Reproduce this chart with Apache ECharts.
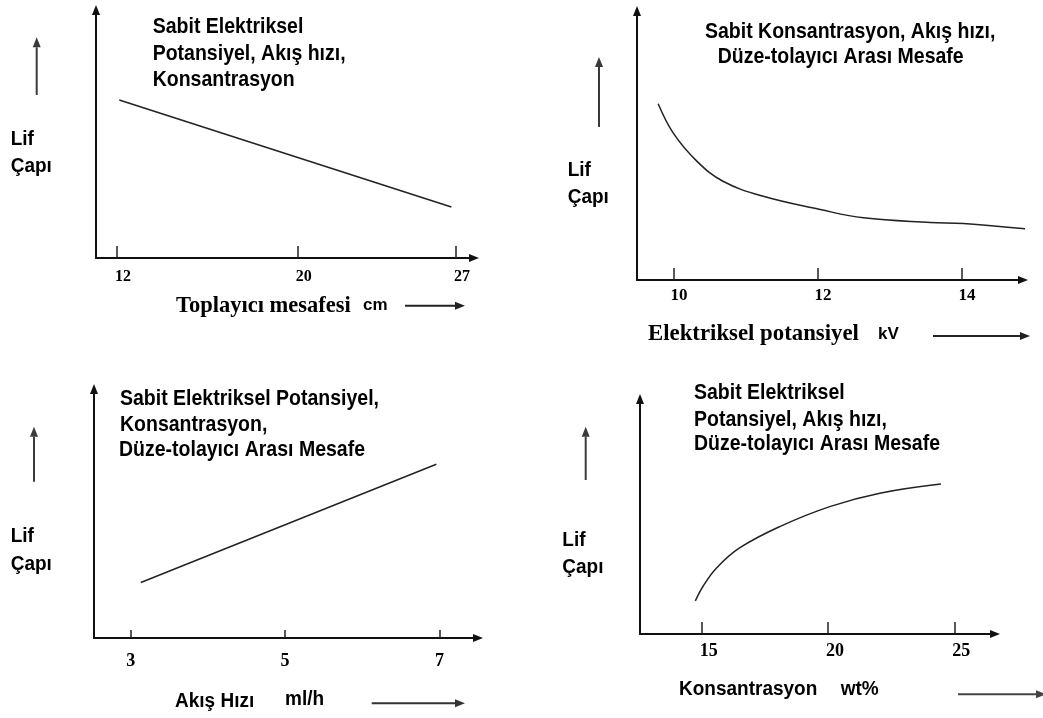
<!DOCTYPE html>
<html>
<head>
<meta charset="utf-8">
<script src="https://cdn.jsdelivr.net/npm/echarts@6/dist/echarts.min.js"></script>
<style>
html, body { margin: 0; padding: 0; background: #fff; }
#chart { width: 1043px; height: 718px; }
</style>
</head>
<body>
<div id="chart"></div>
<script>
// Lif çapı has no scale in the figure, y is a relative 0-100 value
const distanceTicks = [12, 20, 27]
const distanceLine = [[12.1, 63.7], [26.8, 20.6]]

const voltageTicks = [10, 12, 14]
const voltageCurve = [
  [9.78, 65.5], [9.99, 54.6], [10.32, 44.1], [10.68, 36.7], [11.24, 31.1],
  [12.03, 26.2], [12.63, 23.1], [13.56, 21.4], [14.02, 21.0], [15.0, 18.7],
]

const flowTicks = [3, 5, 7]
const flowLine = [[3.13, 22.3], [6.96, 69.8]]

const concTicks = [15, 20, 25]
const concCurve = [
  [14.75, 14.1], [15.05, 20.2], [15.58, 28.0], [16.5, 36.6],
  [18.09, 45.7], [20.07, 54.2], [22.05, 59.9], [24.47, 63.8],
]

const yName = ['Lif', 'Çapı']
const headings = [
  ['Sabit Elektriksel', 'Potansiyel, Akış hızı,', 'Konsantrasyon'],
  ['Sabit Konsantrasyon, Akış hızı,', 'Düze-tolayıcı Arası Mesafe'],
  ['Sabit Elektriksel Potansiyel,', 'Konsantrasyon,', 'Düze-tolayıcı Arası Mesafe'],
  ['Sabit Elektriksel', 'Potansiyel, Akış hızı,', 'Düze-tolayıcı Arası Mesafe'],
]
const xNames = [
  ['Toplayıcı mesafesi', 'cm'],
  ['Elektriksel potansiyel', 'kV'],
  ['Akış Hızı', 'ml/h'],
  ['Konsantrasyon', 'wt%'],
]

const SANS = '"Arial", "Liberation Sans", sans-serif'
const SERIF = '"Times New Roman", "Liberation Serif", serif'

const panels = [
  { grid: { left: 96, top: 10, width: 378, height: 248 }, min: 11.07, max: 27.8,
    ticks: distanceTicks, data: distanceLine, smooth: false,
    label: { fontSize: 16, margin: 11, padding: [0, 0, 0, 12] }, tickLen: 12 },
  { grid: { left: 637, top: 11, width: 386, height: 269 }, min: 9.486, max: 14.847,
    ticks: voltageTicks, data: voltageCurve, smooth: 0.4,
    label: { fontSize: 17, margin: 7, padding: [0, 0, 0, 10] }, tickLen: 12 },
  { grid: { left: 94, top: 389, width: 384, height: 249 }, min: 2.523, max: 7.5,
    ticks: flowTicks, data: flowLine, smooth: false,
    label: { fontSize: 18, margin: 14, padding: 0 }, tickLen: 8 },
  { grid: { left: 640, top: 399, width: 355, height: 235 }, min: 12.56, max: 26.61,
    ticks: concTicks, data: concCurve, smooth: 0.4,
    label: { fontSize: 18, margin: 8, padding: [0, 0, 0, 14] }, tickLen: 12 },
]

const text = (str, x, y, font, sy) => ({
  type: 'text',
  x: x,
  y: y,
  scaleY: sy || 1,
  silent: true,
  style: {
    text: str,
    font: font,
    fill: '#000',
    align: 'left',
    textAlign: 'left',
    verticalAlign: 'middle',
    textVerticalAlign: 'middle',
  },
})

const arrow = (x1, y1, x2, y2, color) => {
  const len = Math.hypot(x2 - x1, y2 - y1)
  const ux = (x2 - x1) / len
  const uy = (y2 - y1) / len
  const hl = 10
  const hw = 4
  const bx = x2 - ux * hl
  const by = y2 - uy * hl
  return {
    type: 'group',
    silent: true,
    children: [
      { type: 'line', shape: { x1: x1, y1: y1, x2: bx, y2: by }, style: { stroke: color, lineWidth: 2 } },
      {
        type: 'polygon',
        shape: { points: [[x2, y2], [bx - uy * hw, by + ux * hw], [bx + uy * hw, by - ux * hw]] },
        style: { fill: color },
      },
    ],
  }
}

const headFont = 'bold 19.5px ' + SANS
const sansFont = 'bold 19px ' + SANS
const graphics = []

// headings
const headPos = [
  { x: [152.7, 152.7, 152.7], y: [26.7, 54.2, 80.3] },
  { x: [705, 717.7], y: [32.2, 57] },
  { x: [120, 120, 119], y: [399.2, 425.5, 450] },
  { x: [694, 694, 694], y: [393, 420, 444] },
]
headings.forEach((lines, i) => {
  lines.forEach((l, j) => graphics.push(text(l, headPos[i].x[j], headPos[i].y[j], headFont, 1.1)))
})

// Lif Çapı labels + small up arrows
const yNamePos = [
  { x: 10.7, y: [138.8, 166.3], arrow: [36.7, 95, 37.3] },
  { x: 567.7, y: [170.3, 197], arrow: [599, 127, 57] },
  { x: 10.7, y: [536.3, 563.8], arrow: [34, 481.7, 426.7] },
  { x: 562.3, y: [540.3, 567], arrow: [585.7, 480, 426.7] },
]
yNamePos.forEach((p) => {
  graphics.push(text(yName[0], p.x, p.y[0], sansFont, 1.1))
  graphics.push(text(yName[1], p.x, p.y[1], sansFont, 1.1))
  graphics.push(arrow(p.arrow[0], p.arrow[1], p.arrow[0], p.arrow[2], '#3a3a3a'))
})

// x axis names + arrows
graphics.push(text(xNames[0][0], 176, 305.8, 'bold 22.5px ' + SERIF))
graphics.push(text(xNames[0][1], 363, 305, 'bold 17px ' + SANS))
graphics.push(arrow(405, 305.7, 465, 305.7, '#222'))

graphics.push(text(xNames[1][0], 648, 334, 'bold 22.8px ' + SERIF))
graphics.push(text(xNames[1][1], 878, 334.5, 'bold 17px ' + SANS))
graphics.push(arrow(933, 336, 1030, 336, '#222'))

graphics.push(text(xNames[2][0], 175, 701.7, sansFont, 1.1))
graphics.push(text(xNames[2][1], 285, 699, sansFont, 1.1))
graphics.push(arrow(371.7, 703.3, 465, 703.3, '#333'))

graphics.push(text(xNames[3][0], 679, 688.8, sansFont, 1.1))
graphics.push(text(xNames[3][1], 840.7, 688.8, sansFont, 1.1))
graphics.push(arrow(958, 694.3, 1046, 694.3, '#444'))

const axisLine = {
  show: true,
  onZero: false,
  symbol: ['none', 'triangle'],
  symbolSize: [8, 10],
  lineStyle: { color: '#111', width: 2 },
}

const option = {
  animation: false,
  backgroundColor: '#fff',
  grid: panels.map((p) => Object.assign({ containLabel: false, outerBoundsMode: 'none' }, p.grid)),
  xAxis: panels.map((p, i) => ({
    type: 'value',
    gridIndex: i,
    min: p.min,
    max: p.max,
    axisLine: axisLine,
    splitLine: { show: false },
    axisTick: {
      show: true,
      inside: true,
      length: p.tickLen,
      customValues: p.ticks,
      lineStyle: { color: '#222', width: 1.5 },
    },
    axisLabel: {
      show: true,
      customValues: p.ticks,
      color: '#000',
      fontFamily: SERIF,
      fontWeight: 'bold',
      fontSize: p.label.fontSize,
      margin: p.label.margin,
      padding: p.label.padding,
    },
  })),
  yAxis: panels.map((p, i) => ({
    type: 'value',
    gridIndex: i,
    min: 0,
    max: 100,
    axisLine: axisLine,
    axisTick: { show: false },
    axisLabel: { show: false },
    splitLine: { show: false },
  })),
  series: panels.map((p, i) => ({
    type: 'line',
    xAxisIndex: i,
    yAxisIndex: i,
    data: p.data,
    smooth: p.smooth,
    clip: false,
    showSymbol: false,
    symbol: 'none',
    lineStyle: { color: '#222', width: 1.5 },
  })),
  graphic: graphics,
}

const chart = echarts.init(document.getElementById('chart'))
chart.setOption(option)
window.addEventListener('resize', () => chart.resize())
</script>
</body>
</html>
